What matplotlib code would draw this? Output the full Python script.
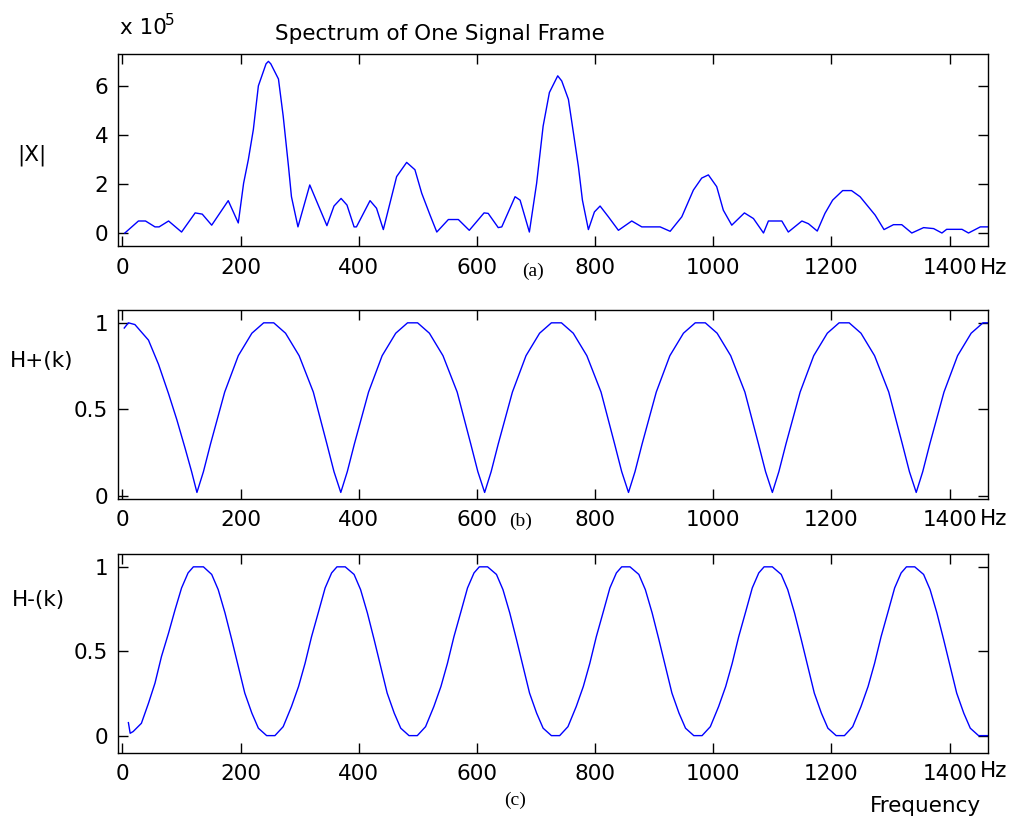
import matplotlib
matplotlib.use("Agg")
import matplotlib.pyplot as plt

# ---------------- data ----------------
# (a) spectrum magnitude, units of 1e5
spec_f = [4, 27, 39, 55, 62, 78, 100, 123, 135, 151, 179, 196, 205, 213, 221.5, 230,
          243, 247, 251, 264, 272, 281, 286, 297, 317, 346, 358, 370, 380, 392, 396,
          419, 430, 441.5, 464, 481, 495, 506.5, 520.6, 532, 551.6, 568.5, 587, 612,
          619, 636, 642, 664.5, 673, 688.7, 701, 712, 722.6, 736.7, 743.5, 754.8,
          763.3, 771.7, 778.5, 788.6, 798.8, 808.4, 822.5, 839.4, 862, 879, 910, 927,
          946.7, 966.3, 980.4, 991.7, 1005.8, 1017, 1031.3, 1052.7, 1068, 1085,
          1093.3, 1116, 1127, 1150, 1161, 1176, 1189, 1202, 1219, 1234, 1248.5,
          1274, 1289, 1305, 1319, 1336, 1356, 1373, 1387, 1395, 1421, 1432, 1452, 1465]
spec_v = [0.0, 0.49, 0.49, 0.25, 0.25, 0.49, 0.04, 0.82, 0.77, 0.32, 1.32, 0.41, 2.03,
          2.99, 4.22, 6.0, 6.9, 7.0, 6.9, 6.28, 4.77, 2.71, 1.48, 0.25, 1.96, 0.3, 1.1,
          1.41, 1.14, 0.25, 0.25, 1.32, 1.01, 0.14, 2.30, 2.88, 2.58, 1.62, 0.73, 0.04,
          0.55, 0.55, 0.11, 0.82, 0.80, 0.22, 0.25, 1.48, 1.34, 0.04, 2.03, 4.36, 5.73,
          6.41, 6.2, 5.45, 4.08, 2.71, 1.34, 0.14, 0.86, 1.1, 0.66, 0.11, 0.49, 0.25,
          0.25, 0.07, 0.66, 1.75, 2.24, 2.37, 1.89, 0.93, 0.32, 0.82, 0.59, 0.0, 0.49,
          0.49, 0.04, 0.49, 0.38, 0.08, 0.80, 1.34, 1.73, 1.73, 1.48, 0.73, 0.14, 0.34,
          0.34, 0.0, 0.22, 0.18, 0.0, 0.15, 0.15, 0.0, 0.25, 0.25]

# (b) H+(k)
hp_f = [3, 10, 21, 44, 61, 78, 92, 106, 117,
        126, 137, 149, 173, 196, 219, 239, 256, 276, 299, 323, 346, 358,
        369.5, 380.5, 392.5, 416.5, 439.5, 462.5, 482.5, 499.5, 519.5, 542.5, 566.5, 589.5, 601.5,
        613, 624, 636, 660, 683, 706, 726, 743, 763, 786, 810, 833, 845,
        856.5, 867.5, 879.5, 903.5, 926.5, 949.5, 969.5, 986.5, 1006.5, 1029.5, 1053.5, 1076.5, 1088.5,
        1100, 1111, 1123, 1147, 1170, 1193, 1213, 1230, 1250, 1273, 1297, 1320, 1332,
        1343.5, 1354.5, 1366.5, 1390.5, 1413.5, 1436.5, 1456.5, 1465]
hp_v = [0.97, 1.0, 0.99, 0.90, 0.76, 0.59, 0.44, 0.275, 0.14,
        0.02, 0.14, 0.30, 0.60, 0.81, 0.94, 1.0, 1.0, 0.94, 0.81, 0.60, 0.30, 0.14,
        0.02, 0.14, 0.30, 0.60, 0.81, 0.94, 1.0, 1.0, 0.94, 0.81, 0.60, 0.30, 0.14,
        0.02, 0.14, 0.30, 0.60, 0.81, 0.94, 1.0, 1.0, 0.94, 0.81, 0.60, 0.30, 0.14,
        0.02, 0.14, 0.30, 0.60, 0.81, 0.94, 1.0, 1.0, 0.94, 0.81, 0.60, 0.30, 0.14,
        0.02, 0.14, 0.30, 0.60, 0.81, 0.94, 1.0, 1.0, 0.94, 0.81, 0.60, 0.30, 0.14,
        0.02, 0.14, 0.30, 0.60, 0.81, 0.94, 1.0, 1.0]

# (c) H-(k)
hm_f = [10, 13, 18, 32, 44, 55, 66, 78, 89, 100, 111, 120, 137,
        151, 162, 173.5, 185, 196, 207, 219, 230, 244, 258, 272, 286, 298, 309, 320, 332, 343, 354, 363, 377,
        392, 403, 414.5, 426, 437, 448, 460, 471, 485, 499, 513, 527, 539, 550, 561, 573, 584, 595, 604, 618,
        633, 644, 655.5, 667, 678, 689, 701, 712, 726, 740, 754, 768, 780, 791, 802, 814, 825, 836, 845, 859,
        874, 885, 896.5, 908, 919, 930, 942, 953, 967, 981, 995, 1009, 1021, 1032, 1043, 1055, 1066, 1077, 1086, 1100,
        1115, 1126, 1137.5, 1149, 1160, 1171, 1183, 1194, 1208, 1222, 1236, 1250, 1262, 1273, 1284, 1296, 1307, 1318, 1327, 1341,
        1356, 1367, 1378.5, 1390, 1401, 1412, 1424, 1435, 1449, 1465]
hm_v = [0.077, 0.014, 0.024, 0.073, 0.192, 0.311, 0.469, 0.608, 0.746, 0.875, 0.964, 1.0, 1.0,
        0.955, 0.865, 0.727, 0.568, 0.41, 0.252, 0.133, 0.044, 0.0, 0.0, 0.053, 0.172, 0.291, 0.428, 0.586, 0.736, 0.875, 0.964, 1.0, 1.0,
        0.955, 0.865, 0.727, 0.568, 0.41, 0.252, 0.133, 0.044, 0.0, 0.0, 0.053, 0.172, 0.291, 0.428, 0.586, 0.736, 0.875, 0.964, 1.0, 1.0,
        0.955, 0.865, 0.727, 0.568, 0.41, 0.252, 0.133, 0.044, 0.0, 0.0, 0.053, 0.172, 0.291, 0.428, 0.586, 0.736, 0.875, 0.964, 1.0, 1.0,
        0.955, 0.865, 0.727, 0.568, 0.41, 0.252, 0.133, 0.044, 0.0, 0.0, 0.053, 0.172, 0.291, 0.428, 0.586, 0.736, 0.875, 0.964, 1.0, 1.0,
        0.955, 0.865, 0.727, 0.568, 0.41, 0.252, 0.133, 0.044, 0.0, 0.0, 0.053, 0.172, 0.291, 0.428, 0.586, 0.736, 0.875, 0.964, 1.0, 1.0,
        0.955, 0.865, 0.727, 0.568, 0.41, 0.252, 0.133, 0.044, 0.0, 0.0]

x_ticks = [0, 200, 400, 600, 800, 1000, 1200, 1400]
x_ticklabels = ["0", "200", "400", "600", "800", "1000", "1200", "1400"]
ya_ticks = [0, 2, 4, 6]
ya_ticklabels = ["0", "2", "4", "6"]
yh_ticks = [0, 0.5, 1]
yh_ticklabels = ["0", "0.5", "1"]

title = "Spectrum of One Signal Frame"
ylabels = ["|X|", "H+(k)", "H-(k)"]
panel_tags = ["(a)", "(b)", "(c)"]

# ---------------- figure ----------------
plt.rcParams['font.family'] = ['DejaVu Sans']
W, H = 1017, 823
fig = plt.figure(figsize=(W / 100, H / 100), dpi=100)


def px_rect(l, t, r, b):
    return [l / W, 1 - b / H, (r - l) / W, (b - t) / H]


def fx(x):
    return x / W


def fy(y):
    return 1 - y / H


LBL = 15.5
blue = (0, 0, 1)

axes_rects = [px_rect(118, 54, 988, 246.5),
              px_rect(118, 309.5, 988, 498.5),
              px_rect(118, 553.5, 988, 752.5)]
ylims = [(-0.55, 7.3), (-0.015, 1.077), (-0.1, 1.079)]
series = [(spec_f, spec_v), (hp_f, hp_v), (hm_f, hm_v)]
yticks = [(ya_ticks, ya_ticklabels), (yh_ticks, yh_ticklabels), (yh_ticks, yh_ticklabels)]

axes = []
for i in range(3):
    ax = fig.add_axes(axes_rects[i])
    f, v = series[i]
    ax.plot(f, v, color=blue, lw=1.0)
    ax.set_xlim(-7.6, 1465)
    ax.set_ylim(*ylims[i])
    ax.set_xticks(x_ticks)
    ax.set_xticklabels(x_ticklabels)
    ax.set_yticks(yticks[i][0])
    ax.set_yticklabels(yticks[i][1])
    ax.tick_params(direction='in', length=7, width=1.0, top=True, right=True,
                   labelsize=LBL, colors='black')
    ax.tick_params(axis='x', pad=8)
    ax.tick_params(axis='y', pad=7)
    for s in ax.spines.values():
        s.set_linewidth(1.0)
        s.set_color('black')
    axes.append(ax)

# y labels
fig.text(fx(32), fy(155), ylabels[0], ha='center', va='center', fontsize=LBL)
fig.text(fx(42), fy(361), ylabels[1], ha='center', va='center', fontsize=LBL)
fig.text(fx(38), fy(600), ylabels[2], ha='center', va='center', fontsize=LBL)

# title and exponent
fig.text(fx(440), fy(40), title, ha='center', va='baseline', fontsize=LBL)
fig.text(fx(120), fy(34), "x 10", ha='left', va='baseline', fontsize=LBL)
fig.text(fx(165), fy(25), "5", ha='left', va='baseline', fontsize=11)

# Hz labels, aligned with the tick label row
for yc in (268, 519, 771):
    fig.text(fx(980), fy(yc), "Hz", ha='left', va='center', fontsize=LBL)

# panel tags
for (xc, yc), tag in zip([(533, 271), (521, 521), (515, 800)], panel_tags):
    fig.text(fx(xc), fy(yc), tag, ha='center', va='center', fontsize=14,
             family=['Liberation Serif', 'DejaVu Serif'])

fig.text(fx(925), fy(806), "Frequency", ha='center', va='center', fontsize=LBL)

fig.savefig("out.png", dpi=100, facecolor='white')
